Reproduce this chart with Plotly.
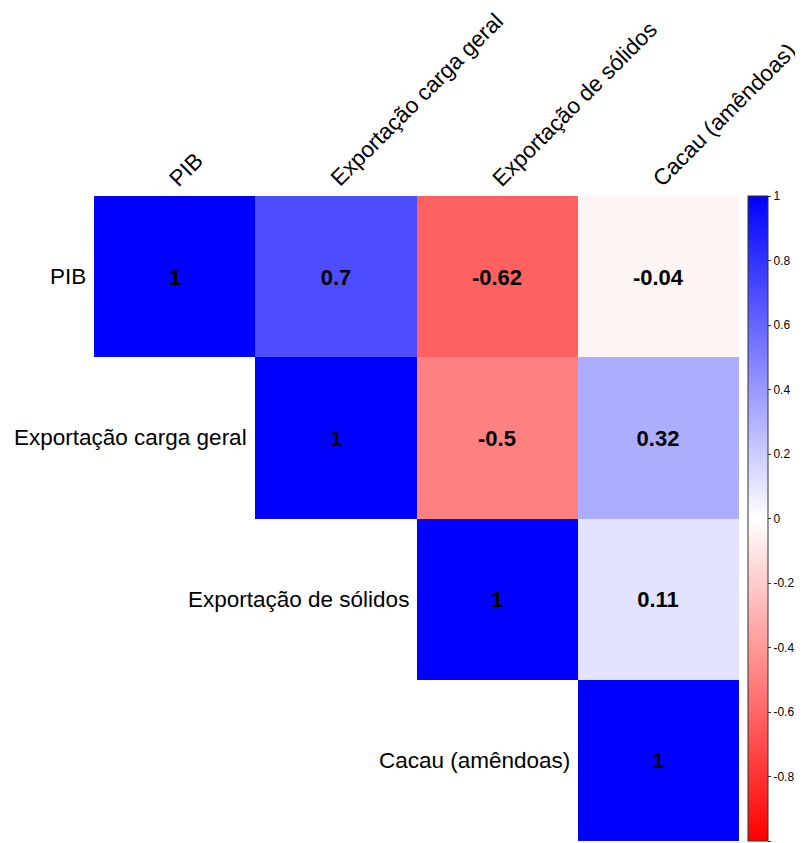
import plotly.graph_objects as go

labels = ["PIB", "Exportação carga geral", "Exportação de sólidos", "Cacau (amêndoas)"]
corr = [
    [1.00, 0.70, -0.62, -0.04],
    [0.70, 1.00, -0.50, 0.32],
    [-0.62, -0.50, 1.00, 0.11],
    [-0.04, 0.32, 0.11, 1.00],
]
cbar_ticks = [-1, -0.8, -0.6, -0.4, -0.2, 0, 0.2, 0.4, 0.6, 0.8, 1]

n = len(labels)
z = [[corr[i][j] if j >= i else None for j in range(n)] for i in range(n)]
txt = [[(("%g" % corr[i][j]) if j >= i else "") for j in range(n)] for i in range(n)]

FONT = "Liberation Sans, Arial, sans-serif"

fig = go.Figure(go.Heatmap(
    z=z, x=list(range(n)), y=list(range(n)),
    zmin=-1, zmax=1,
    colorscale=[[0, "#FF0000"], [0.5, "#FFFFFF"], [1, "#0000FF"]],
    text=txt, texttemplate="<b>%{text}</b>",
    textfont=dict(family=FONT, size=22, color="black"),
    hoverongaps=False,
    colorbar=dict(
        x=1.014, xanchor="left", xpad=0, ypad=0,
        y=0.5, yanchor="middle", len=1, lenmode="fraction",
        thickness=20, thicknessmode="pixels",
        outlinecolor="#333333", outlinewidth=1,
        tickvals=cbar_ticks, ticktext=["%g" % t for t in cbar_ticks],
        ticks="outside", ticklen=3, tickcolor="#333333",
        tickfont=dict(family=FONT, size=12, color="black"),
    ),
))

annotations = []
for i, lab in enumerate(labels):
    annotations.append(dict(
        x=i - 0.5, y=i, xref="x", yref="y", text=lab, showarrow=False,
        xanchor="right", yanchor="middle", xshift=-6,
        font=dict(family=FONT, size=22.5, color="black"),
    ))
    annotations.append(dict(
        x=i - 0.5, y=-0.5, xref="x", yref="y", text=lab, showarrow=False,
        xanchor="left", yanchor="bottom", textangle=-45, yshift=2, xshift=68,
        font=dict(family=FONT, size=22.5, color="black"),
    ))

fig.update_layout(
    width=795, height=835,
    margin=dict(l=86, r=64, t=188, b=2, autoexpand=False),
    paper_bgcolor="white", plot_bgcolor="white",
    xaxis=dict(visible=False, range=[-0.5, n - 0.5]),
    yaxis=dict(visible=False, range=[n - 0.5, -0.5]),
    annotations=annotations,
    showlegend=False,
)

fig.write_html("out.html")
